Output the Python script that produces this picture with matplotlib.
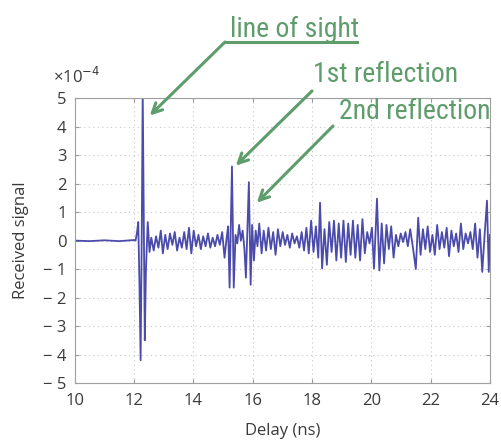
import matplotlib.pyplot as plt
import numpy as np

# delay (ns) and received signal (x1e-4) at the peaks/troughs
delay = [10.0, 10.5, 11.0, 11.5, 12.0, 12.05,
         12.10, 12.14, 12.18, 12.22, 12.26, 12.29, 12.33, 12.36, 12.40, 12.46, 12.52, 12.58,
         12.66, 12.74, 12.82, 12.90, 12.97, 13.05, 13.13, 13.21, 13.29, 13.37, 13.45, 13.53,
         13.61, 13.69, 13.77, 13.85, 13.93, 14.01, 14.09, 14.17, 14.25, 14.33, 14.41, 14.49,
         14.57, 14.65, 14.73, 14.81, 14.89, 14.97, 15.05, 15.12,
         15.17, 15.22, 15.30, 15.36, 15.42, 15.48, 15.54, 15.60, 15.66, 15.72, 15.77, 15.87,
         15.93, 15.98, 16.04, 16.10, 16.16,
         16.22, 16.30, 16.37, 16.45, 16.53, 16.61, 16.69, 16.77, 16.85, 16.93, 17.01, 17.09,
         17.17, 17.25, 17.33, 17.41, 17.49, 17.57, 17.65, 17.73, 17.81, 17.89, 17.97, 18.05,
         18.13, 18.21, 18.27, 18.34, 18.42, 18.50, 18.58, 18.66, 18.74, 18.82, 18.90, 18.98,
         19.06, 19.14, 19.22, 19.30, 19.38, 19.46, 19.54, 19.62, 19.70, 19.78, 19.86, 19.94,
         20.02, 20.09, 20.19, 20.27, 20.35, 20.43, 20.51, 20.59, 20.67, 20.75, 20.83, 20.91,
         20.99, 21.07, 21.15, 21.23, 21.31, 21.41, 21.50, 21.58, 21.66, 21.74, 21.82, 21.90,
         21.98, 22.06, 22.14, 22.22, 22.30, 22.38, 22.46, 22.54, 22.62, 22.70, 22.78, 22.86,
         22.94, 23.02, 23.10, 23.18, 23.26, 23.34, 23.42, 23.50, 23.58, 23.66, 23.74, 23.82,
         23.90, 23.96, 24.0]
signal = [0.0, -0.02, 0.01, -0.02, 0.02, 0.0,
          0.3, 0.65, -1.5, -4.2, 0.5, 5.3, 0.0, -3.5, -1.0, 0.65, -0.4, 0.1,
          -0.35, 0.15, -0.25, 0.35, -0.45, 0.2, -0.3, 0.25, -0.15, 0.3, -0.35, 0.1,
          -0.25, 0.3, -0.3, 0.45, -0.45, 0.35, -0.2, 0.2, -0.3, 0.15, -0.2, 0.25,
          -0.25, 0.1, -0.2, 0.2, -0.15, 0.3, -0.6, 0.1,
          0.5, -1.65, 2.6, -1.65, 0.2, -0.1, 0.55, 0.0, 0.35, -0.3, -1.3, 2.05,
          -1.55, 0.55, -0.7, 0.35, -0.2,
          0.6, -0.45, 0.35, -0.35, 0.45, -0.3, 0.3, -0.5, 0.4, -0.2, 0.3, -0.15,
          0.2, -0.25, 0.25, -0.1, 0.15, -0.25, 0.3, -0.35, 0.45, -0.45, 0.7, -0.4,
          0.5, -0.6, 1.33, -0.98, 0.4, -0.85, 0.65, -0.4, 0.7, -0.7, 0.6, -0.6,
          0.7, -0.75, 0.6, -0.5, 0.7, -0.6, 0.55, -0.7, 0.75, -0.45, 0.3, -0.1,
          0.45, -0.98, 1.47, -1.05, 0.6, -0.8, 0.55, -0.3, 0.5, -0.6, 0.2, -0.2,
          0.25, -0.05, 0.3, -0.2, 0.4, -0.3, -1.0, 0.8, -0.5, 0.4, -0.3, 0.5,
          -0.4, 0.2, -0.5, 0.55, -0.3, 0.3, -0.25, 0.45, -0.55, 0.35, -0.2, 0.25,
          -0.4, 0.6, -0.3, 0.25, -0.1, 0.3, -0.3, 0.6, -0.6, 0.4, -1.1, 0.2,
          1.4, -1.1, 0.2]

xticks = [10, 12, 14, 16, 18, 20, 22, 24]
yticks = [-5, -4, -3, -2, -1, 0, 1, 2, 3, 4, 5]
ytick_labels = ['− 5', '− 4', '− 3', '− 2', '− 1', '0', '1', '2', '3', '4', '5']

green = '#5f9c6c'
txt = '#3a3a3a'
plt.rcParams['font.family'] = ['Open Sans', 'DejaVu Sans']

fig = plt.figure(figsize=(5.02, 4.48), dpi=100)
ax = fig.add_axes([0.149, 0.145, 0.827, 0.636])

ax.plot(delay, signal, color='#4b4bab', lw=1.3)

ax.set_xlim(10, 24)
ax.set_ylim(-5, 5)
ax.set_xticks(xticks)
ax.set_yticks(yticks)
ax.set_yticklabels(ytick_labels)
ax.tick_params(direction='in', length=3, colors='#999999', labelcolor=txt,
               labelsize=12, top=True, right=True)
ax.tick_params(axis='x', pad=7)
ax.tick_params(axis='y', pad=6)
ax.grid(True, ls=(0, (1, 3)), color='#c8c8c8', lw=0.8)
for s in ax.spines.values():
    s.set_color('#a0a0a0')
    s.set_linewidth(0.8)

ax.set_xlabel('Delay (ns)', fontsize=12, color=txt, labelpad=10)
ax.set_ylabel('Received signal', fontsize=12, color=txt, labelpad=10)
fig.text(0.105, 1 - 83 / 448, '×10$^{-4}$', fontsize=12, color=txt, ha='left', va='baseline')

# annotations (text in figure fraction, arrow tip in data units)
afont = ['Roboto Condensed', 'Open Sans Condensed', 'Noto Sans Condensed',
         'DejaVu Sans Condensed', 'Liberation Sans Narrow', 'Roboto']
aprops = dict(arrowstyle='->, head_length=0.7, head_width=0.35', color=green, lw=2.2,
              shrinkA=0, shrinkB=0)
ax.annotate('', xy=(12.53, 4.39), xycoords='data',
            xytext=(225 / 502, 1 - 42 / 448), textcoords='figure fraction', arrowprops=aprops)
fig.add_artist(plt.Line2D([225 / 502, 357 / 502], [1 - 42 / 448] * 2, color=green, lw=2.2))
fig.text(294 / 502, 1 - 37 / 448, 'line of sight', fontsize=20, color=green, family=afont,
         ha='center', va='baseline')

ax.annotate('', xy=(15.43, 2.63), xycoords='data',
            xytext=(312 / 502, 1 - 91 / 448), textcoords='figure fraction', arrowprops=aprops)
fig.text(386 / 502, 1 - 82 / 448, '1st reflection', fontsize=20, color=green, family=afont,
         ha='center', va='baseline')

ax.annotate('', xy=(16.14, 1.33), xycoords='data',
            xytext=(333 / 502, 1 - 126 / 448), textcoords='figure fraction', arrowprops=aprops)
fig.text(415 / 502, 1 - 119 / 448, '2nd reflection', fontsize=20, color=green, family=afont,
         ha='center', va='baseline')

fig.savefig('out.png', dpi=100)
